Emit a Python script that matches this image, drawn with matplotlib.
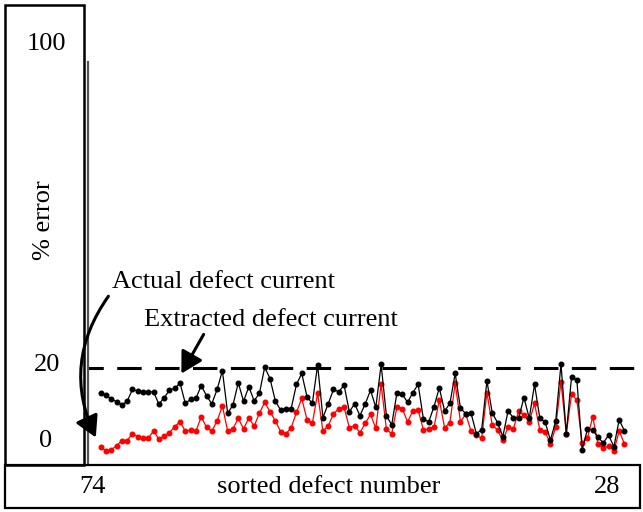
import matplotlib
matplotlib.use("Agg")
import matplotlib.pyplot as plt
from matplotlib.patches import Rectangle, FancyArrowPatch

plt.rcParams['font.family'] = ['Liberation Serif', 'DejaVu Serif']

# % error per sorted defect (defect 74 ... defect 28)
extracted = [13.5, 13.1, 12.0, 11.4, 10.5, 11.5, 14.5, 14.1, 13.9, 13.9,
             13.9, 10.7, 12.4, 14.3, 14.8, 16.1, 10.9, 12.0, 12.2, 15.5,
             12.9, 10.8, 14.5, 19.3, 8.4, 10.5, 16.2, 11.5, 15.2, 11.6,
             13.5, 20.2, 17.3, 11.6, 9.2, 9.6, 9.6, 15.8, 18.6, 12.6,
             10.9, 20.8, 7.3, 10.8, 14.5, 13.9, 15.6, 8.8, 10.8, 7.8,
             10.8, 14.3, 9.9, 20.9, 7.8, 5.4, 13.7, 13.3, 11.2, 13.7,
             15.8, 6.9, 6.2, 10.1, 14.9, 9.0, 10.9, 18.6, 9.7, 8.3,
             8.4, 3.2, 4.1, 16.7, 8.5, 6.0, 2.4, 9.0, 7.2, 7.2,
             12.4, 7.1, 15.8, 7.1, 6.2, 1.5, 6.4, 21.0, 3.2, 17.8,
             16.9, -0.9, 4.3, 4.1, 2.2, 0.8, 2.8, -0.2, 6.7, 3.9]
actual = [-0.3, -1.2, -1.0, 0.1, 1.4, 1.4, 3.2, 2.4, 2.0, 2.0,
          3.9, 1.7, 2.5, 3.4, 5.0, 6.2, 3.8, 4.1, 3.8, 7.5,
          4.8, 3.8, 6.4, 10.3, 3.8, 4.4, 7.1, 4.4, 7.2, 5.1,
          8.4, 11.2, 8.8, 6.5, 3.7, 3.1, 4.7, 8.6, 12.2, 6.7,
          5.8, 13.5, 3.8, 5.2, 8.2, 9.6, 9.9, 4.7, 5.2, 3.4,
          5.8, 8.1, 4.5, 15.9, 4.3, 3.1, 10.1, 9.6, 6.2, 9.0,
          9.2, 4.1, 4.4, 4.8, 11.8, 4.7, 6.0, 16.1, 6.2, 8.2,
          3.8, 2.8, 2.0, 13.7, 5.4, 4.1, 1.5, 4.8, 4.4, 9.0,
          7.9, 6.2, 10.9, 4.1, 3.7, 0.5, 4.8, 16.5, 3.2, 13.3,
          11.8, 0.7, 2.0, 7.5, 0.4, -0.6, 0.1, -1.3, 3.9, 0.5]
idx = list(range(1, len(extracted) + 1))
threshold = 20
y_ticks = ['100', '20', '0']
x_ticks = ['74', 'sorted defect number', '28']

W, H = 643, 512
fig = plt.figure(figsize=(W / 100, H / 100), dpi=100)

def px(x, y):  # pixel (from top-left) -> figure fraction
    return x / W, 1 - y / H

# frames around the labels
fig.patches.append(Rectangle(px(5, 465), 79 / W, 460 / H, transform=fig.transFigure,
                             fill=False, lw=1.8, ec='black'))
fig.patches.append(Rectangle(px(5, 508), 635 / W, 43 / H, transform=fig.transFigure,
                             fill=False, lw=1.6, ec='black'))

ax = fig.add_axes([88 / W, 1 - 465 / H, (W - 88) / W, (465 - 62) / H])
ax.set_xlim(-1.4, 103.5)
ax.set_ylim(-4.87, 98.46)
for s in ['top', 'right', 'bottom']:
    ax.spines[s].set_visible(False)
ax.spines['left'].set_color('#555555')
ax.spines['left'].set_linewidth(1.6)
ax.set_xticks([])
ax.set_yticks([])
ax.patch.set_alpha(0)

ax.axhline(threshold, color='black', lw=2.2, linestyle=(3.0, (8.0, 4.4)))
ax.plot(idx, actual, color='red', lw=0.9, marker='o', ms=3.3)
ax.plot(idx, extracted, color='black', lw=0.9, marker='o', ms=3.3)

# labels
fs = 19
fig.text(*px(46, 44), y_ticks[0], fontsize=fs, ha='center', va='center')
fig.text(*px(44, 220), '% error', fontsize=fs, ha='center', va='center', rotation=90)
fig.text(*px(47, 365), y_ticks[1], fontsize=fs, ha='center', va='center')
fig.text(*px(46, 441), y_ticks[2], fontsize=fs, ha='center', va='center')
fig.text(*px(92, 487), x_ticks[0], fontsize=fs, ha='center', va='center')
fig.text(*px(329, 487), x_ticks[1], fontsize=fs, ha='center', va='center')
fig.text(*px(607, 487), x_ticks[2], fontsize=fs, ha='center', va='center')

fig.text(*px(112, 282), 'Actual defect current', fontsize=fs, ha='left', va='center')
fig.text(*px(144, 320), 'Extracted defect current', fontsize=fs, ha='left', va='center')

fig.patches.append(FancyArrowPatch(px(110, 294), px(97, 440), transform=fig.transFigure,
                                   connectionstyle='arc3,rad=0.3',
                                   arrowstyle='-|>,head_length=0.8,head_width=0.45',
                                   mutation_scale=16, lw=2.2, color='black'))
fig.patches.append(FancyArrowPatch(px(205, 332), px(180, 376), transform=fig.transFigure,
                                   arrowstyle='-|>,head_length=0.8,head_width=0.45',
                                   mutation_scale=16, lw=2.2, color='black'))

fig.savefig('out.png', dpi=100)
